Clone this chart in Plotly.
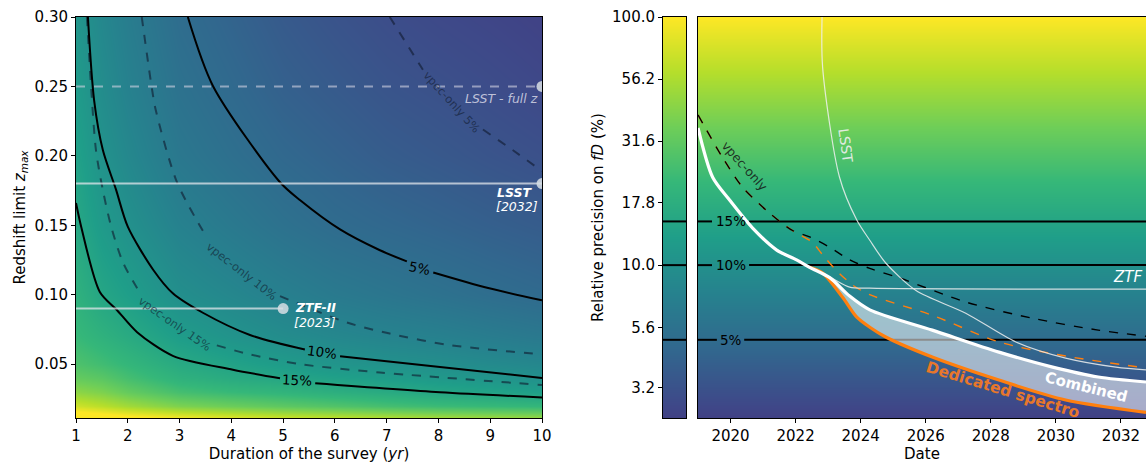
import numpy as np
import plotly.graph_objects as go

# ---------------- Left panel data ----------------
duration_grid = [1, 1.5, 2, 3, 4, 5, 6, 7, 8, 9, 10]
zmax_grid = [0.01, 0.02, 0.03, 0.04, 0.05, 0.07, 0.10, 0.15, 0.20, 0.25, 0.30]
# precision on fD (%) per duration column, from zmax=0.01 up to 0.30
prec_d1 = [170, 72, 45, 33, 27, 22, 19, 15.6, 13.8, 12.2, 11.0]
prec_d1_5 = [150, 62, 40, 30, 24, 19, 15, 12, 10.4, 9.3, 8.5]
prec_d2 = [130, 52, 33, 25, 21, 16.5, 13, 10.1, 8.6, 7.6, 7.0]
prec_d3 = [110, 40, 25, 19, 16.2, 12.5, 9.7, 7.6, 6.3, 5.6, 5.1]
prec_d4 = [95, 35, 22, 16.6, 14, 10.6, 8.5, 6.5, 5.4, 4.8, 4.35]
prec_d5 = [82, 31, 20, 15, 12.3, 9.3, 7.4, 5.6, 4.7, 4.1, 3.7]
prec_d6 = [75, 28, 18, 13.5, 10.9, 8.5, 6.6, 5.0, 4.25, 3.7, 3.3]
prec_d7 = [68, 25, 16.5, 12.6, 10.2, 7.9, 6.1, 4.65, 3.85, 3.35, 3.0]
prec_d8 = [62, 23, 15, 11.7, 9.7, 7.5, 5.65, 4.35, 3.6, 3.15, 2.8]
prec_d9 = [58, 22, 14.1, 10.9, 9.0, 6.9, 5.2, 4.05, 3.35, 2.95, 2.65]
prec_d10 = [55, 21, 13.1, 10, 8.4, 6.4, 4.85, 3.8, 3.15, 2.75, 2.5]
prec_columns = [prec_d1, prec_d1_5, prec_d2, prec_d3, prec_d4, prec_d5,
                prec_d6, prec_d7, prec_d8, prec_d9, prec_d10]

# total-precision contours (None = gap for the inline label)
c5_dur = [3.16, 3.65, 4.94, 5.33, 6.1, 6.87, 7.39, None, 7.9, 8.94, 10]
c5_z = [0.30, 0.25, 0.181, 0.168, 0.147, 0.132, 0.124, None, 0.116, 0.105, 0.096]
c10_dur = [1.23, 1.35, 1.52, 1.77, 2.0, 2.49, 2.87, 3.45, 4.36, 5.42, None, 6.1, 8.03, 10]
c10_z = [0.30, 0.240, 0.204, 0.176, 0.149, 0.118, 0.101, 0.087, 0.071, 0.0605, None, 0.0556, 0.048, 0.040]
c15_dur = [1.0, 1.1, 1.46, 1.79, 2.18, 2.87, 4.03, 4.94, None, 5.62, 8.03, 10]
c15_z = [0.166, 0.149, 0.102, 0.089, 0.073, 0.056, 0.046, 0.0398, None, 0.0362, 0.0297, 0.026]
# vpec-only contours
v5_dur = [7.06, 7.70, None, 8.86, 9.44, 10]
v5_z = [0.30, 0.262, None, 0.219, 0.204, 0.189]
v10_dur = [2.27, 2.46, 2.54, 2.95, 3.45, None, 4.94, 6.23, 7.06, 8.16, 10]
v10_z = [0.30, 0.25, 0.233, 0.181, 0.146, None, 0.099, 0.080, 0.072, 0.064, 0.057]
v15_dur = [1.21, 1.30, 1.386, 1.515, 1.68, 1.91, 2.24, None, 3.72, 4.36, 5.33, 6.87, 10]
v15_z = [0.30, 0.245, 0.204, 0.176, 0.149, 0.123, 0.101, None, 0.0635, 0.057, 0.050, 0.044, 0.035]

# surveys
ztf2_duration, ztf2_z = 5, 0.09
lsst_duration, lsst_z = 10, 0.18
lsst_full_z = 0.25

# ---------------- Right panel data ----------------
combined_year = [2019.0, 2019.45, 2019.97, 2020.68, 2021.42, 2022.03, 2022.43, 2023.05,
                 2023.66, 2024.28, 2026.2, 2028.25, 2029.9, 2031.3, 2032.77]
combined_pct = [35.7, 22.6, 18.3, 14.1, 11.5, 10.5, 9.8, 8.9, 7.5, 6.6, 5.47, 4.46, 3.88, 3.54, 3.38]
spectro_year = [2022.43, 2022.83, 2023.45, 2023.88, 2024.28, 2024.77, 2026.2, 2028.25, 2030.3, 2032.77]
spectro_pct = [9.8, 9.3, 7.4, 6.17, 5.62, 5.13, 4.26, 3.44, 2.86, 2.55]
vpec_year = [2019.0, 2019.75, 2020.37, 2021.2, 2021.9, 2022.43, 2023.05, 2023.66, 2024.28,
             2025.17, 2027.23, 2029.3, 2031.3, 2032.77]
vpec_pct = [40.3, 27.2, 20.6, 16.2, 13.8, 13.0, 11.8, 10.5, 9.7, 8.9, 7.1, 6.1, 5.47, 5.17]
vpec_spectro_year = [2019.0, 2019.75, 2020.37, 2021.2, 2021.9, 2022.5, 2022.83, 2023.26,
                     2023.76, 2024.28, 2026.2, 2028.25, 2030.3, 2032.77]
vpec_spectro_pct = [40.3, 27.2, 20.6, 16.2, 13.8, 12.4, 11.0, 9.5, 8.3, 7.6, 6.28, 4.9, 4.3, 3.85]
lsst_year = [2022.82, 2022.83, 2023.35, 2023.88, 2024.28, 2024.77, 2025.7, 2027.23,
             2028.77, 2030.3, 2031.85, 2032.77]
lsst_pct = [110, 62.8, 22.6, 15.2, 12.6, 10.2, 7.9, 6.4, 4.9, 4.22, 3.88, 3.78]
ztf_year = [2022.43, 2023.05, 2023.66, 2024.28, 2032.77]
ztf_pct = [9.8, 8.96, 8.15, 8.07, 8.0]

levels_pct = [5, 10, 15]
level_labels = ["5%", "10%", "15%"]
gradient_pct = [2.0, 3.2, 10.0, 31.6, 100.0]
ytick_vals = [3.2, 5.6, 10.0, 17.8, 31.6, 56.2, 100.0]
ytick_text = ["3.2", "5.6", "10.0", "17.8", "31.6", "56.2", "100.0"]
year_ticks = [2020, 2022, 2024, 2026, 2028, 2030, 2032]

# ---------------- Figure ----------------
W, H = 1146, 464
FONT = "DejaVu Sans"
FS = 15
fig = go.Figure()

# left heatmap
zmat = np.log10(np.array(prec_columns, dtype=float)).T
fig.add_trace(go.Heatmap(x=duration_grid, y=zmax_grid, z=zmat, colorscale="Viridis",
                         zmin=0, zmax=2, zsmooth="best", showscale=False,
                         hoverinfo="skip", xaxis="x", yaxis="y"))

dash_col = "rgba(15,25,45,0.6)"
for xs, zs in [(v5_dur, v5_z), (v10_dur, v10_z), (v15_dur, v15_z)]:
    fig.add_trace(go.Scatter(x=xs, y=zs, mode="lines", line=dict(color=dash_col, width=2, dash="dash",
                  shape="spline", smoothing=0.8), showlegend=False, hoverinfo="skip", xaxis="x", yaxis="y"))
for xs, zs in [(c5_dur, c5_z), (c10_dur, c10_z), (c15_dur, c15_z)]:
    fig.add_trace(go.Scatter(x=xs, y=zs, mode="lines", line=dict(color="black", width=2,
                  shape="spline", smoothing=0.8), showlegend=False, hoverinfo="skip", xaxis="x", yaxis="y"))

# survey lines
fig.add_trace(go.Scatter(x=[1, lsst_duration], y=[lsst_full_z, lsst_full_z], mode="lines",
              line=dict(color="rgba(210,210,225,0.6)", width=2, dash="dash"),
              showlegend=False, hoverinfo="skip", xaxis="x", yaxis="y"))
fig.add_trace(go.Scatter(x=[1, lsst_duration], y=[lsst_z, lsst_z], mode="lines",
              line=dict(color="rgba(225,230,235,0.75)", width=2),
              showlegend=False, hoverinfo="skip", xaxis="x", yaxis="y"))
fig.add_trace(go.Scatter(x=[1, ztf2_duration], y=[ztf2_z, ztf2_z], mode="lines",
              line=dict(color="rgba(225,230,235,0.75)", width=2),
              showlegend=False, hoverinfo="skip", xaxis="x", yaxis="y"))
fig.add_trace(go.Scatter(x=[ztf2_duration, lsst_duration, lsst_duration], y=[ztf2_z, lsst_z, lsst_full_z],
              mode="markers", marker=dict(color="rgba(215,222,228,0.85)", size=11),
              showlegend=False, hoverinfo="skip", xaxis="x", yaxis="y"))

# strip (colorbar)
gz = [[np.log10(v), np.log10(v)] for v in gradient_pct]
fig.add_trace(go.Heatmap(x=[0, 1], y=gradient_pct, z=gz, colorscale="Viridis", zmin=0, zmax=2,
                         zsmooth="best", showscale=False, hoverinfo="skip", xaxis="x2", yaxis="y2"))
for lv in levels_pct:
    fig.add_trace(go.Scatter(x=[0, 1], y=[lv, lv], mode="lines", line=dict(color="black", width=2),
                  showlegend=False, hoverinfo="skip", xaxis="x2", yaxis="y2"))

# main right panel background
fig.add_trace(go.Heatmap(x=[2018, 2034], y=gradient_pct, z=gz, colorscale="Viridis", zmin=0, zmax=2,
                         zsmooth="best", showscale=False, hoverinfo="skip", xaxis="x3", yaxis="y3"))
X0, X1 = 2019.0, 2032.77
label_x = 2020.0
for lv, lab in zip(levels_pct, level_labels):
    half = 0.57 if len(lab) == 3 else 0.42
    fig.add_trace(go.Scatter(x=[X0, label_x - half, None, label_x + half, X1 + 1],
                  y=[lv, lv, None, lv, lv], mode="lines", line=dict(color="black", width=2),
                  showlegend=False, hoverinfo="skip", xaxis="x3", yaxis="y3"))
    fig.add_annotation(x=label_x, y=np.log10(lv), xref="x3", yref="y3", text=lab, showarrow=False,
                       font=dict(size=13.5, color="black", family=FONT))

def line3(xs, ys, color, width, dash=None):
    fig.add_trace(go.Scatter(x=xs, y=ys, mode="lines",
                  line=dict(color=color, width=width, dash=dash, shape="spline", smoothing=0.8),
                  showlegend=False, hoverinfo="skip", xaxis="x3", yaxis="y3"))

line3(vpec_spectro_year, vpec_spectro_pct, "#ff7f0e", 1.4, "dash")
line3(vpec_year, vpec_pct, "black", 1.4, "dash")
line3(lsst_year, lsst_pct, "rgba(240,240,240,0.85)", 1.2)
line3(ztf_year, ztf_pct, "rgba(240,240,240,0.85)", 1.2)
line3(spectro_year, spectro_pct, "#ff7f0e", 3.2)
# fill between dedicated spectro and combined
split = combined_year.index(spectro_year[0])
fig.add_trace(go.Scatter(x=combined_year[split:], y=combined_pct[split:], mode="lines",
              line=dict(width=0, shape="spline", smoothing=0.8), fill="tonexty",
              fillcolor="rgba(255,255,255,0.55)", showlegend=False, hoverinfo="skip",
              xaxis="x3", yaxis="y3"))
line3(combined_year, combined_pct, "white", 3.2)

# ---------------- annotations ----------------
def ann(x, y, text, ref, size=12, color="white", angle=0, xanchor="center", yanchor="middle"):
    fig.add_annotation(x=x, y=y, xref="x" + ref, yref="y" + ref,
                       text=text, showarrow=False, textangle=angle, xanchor=xanchor, yanchor=yanchor,
                       font=dict(size=size, color=color, family=FONT))

# left contour labels
ann(7.64, 0.1195, "5%", "", 13.5, "black", 12)
ann(5.75, 0.0584, "10%", "", 13.5, "black", 8)
ann(5.27, 0.0383, "15%", "", 13.5, "black", 3)
ann(8.26, 0.239, "vpec-only 5%", "", 11.5, dash_col, 48)
ann(4.19, 0.117, "vpec-only 10%", "", 11.5, dash_col, 38)
ann(2.91, 0.079, "vpec-only 15%", "", 11.5, dash_col, 35)
ann(9.96, 0.2415, "<i>LSST - full z</i>", "", 12.5, "rgba(215,215,230,0.85)", 0, "right")
ann(9.86, 0.1735, "<b><i>LSST</i></b>", "", 12.5, "white", 0, "right")
ann(9.96, 0.1635, "<i>[2032]</i>", "", 12.5, "white", 0, "right")
ann(5.2, 0.0905, "<b><i>ZTF-II</i></b>", "", 12.5, "white", 0, "left")
ann(5.17, 0.080, "<i>[2023]</i>", "", 12.5, "white", 0, "left")

# right labels
ann(2020.45, np.log10(25.0), "vpec-only", "3", 12.5, "rgba(20,20,20,0.85)", 48)
ann(2023.54, np.log10(30.2), "LSST", "3", 14, "rgba(240,240,240,0.9)", 82)
ann(2032.2, np.log10(8.96), "<i>ZTF</i>", "3", 15, "white")
ann(2030.92, np.log10(3.22), "<b>Combined</b>", "3", 15, "white", 14)
ann(2028.37, np.log10(3.13), "<b>Dedicated spectro</b>", "3", 15.5, "#e8772a", 17)

# ---------------- layout ----------------
axis_common = dict(showline=True, linecolor="black", linewidth=1, ticks="outside", ticklen=4,
                   tickcolor="black", showgrid=False, zeroline=False, automargin=False,
                   tickfont=dict(size=FS, family=FONT, color="black"))
ylo = np.log10(2.42)
fig.update_layout(
    width=W, height=H, margin=dict(l=0, r=0, t=17, b=46, autoexpand=False),
    paper_bgcolor="white", plot_bgcolor="white", showlegend=False,
    font=dict(family=FONT, size=FS, color="black"),
    xaxis=dict(axis_common, domain=[76 / W, 542 / W], range=[1, 10], mirror=True,
               tickvals=list(range(1, 11)), anchor="y",
               title=dict(text="Duration of the survey (<i>yr</i>)", standoff=3,
                          font=dict(size=FS, family=FONT))),
    yaxis=dict(axis_common, domain=[0, 1], range=[0.0112, 0.30], mirror=True,
               tickvals=[0.05, 0.10, 0.15, 0.20, 0.25, 0.30],
               ticktext=["0.05", "0.10", "0.15", "0.20", "0.25", "0.30"], anchor="x",
               title=dict(text="Redshift limit <i>z</i><sub><i>max</i></sub>", standoff=5,
                          font=dict(size=FS, family=FONT))),
    xaxis2=dict(axis_common, domain=[663 / W, 686 / W], range=[0, 1], mirror=True,
                ticks="", showticklabels=False, anchor="y2"),
    yaxis2=dict(axis_common, type="log", domain=[0, 1], range=[ylo, 2], mirror=True,
                tickvals=ytick_vals, ticktext=ytick_text, anchor="x2",
                title=dict(text="Relative precision on <i>fD</i> (%)", standoff=4,
                           font=dict(size=FS, family=FONT))),
    xaxis3=dict(axis_common, domain=[698 / W, 1.0], range=[2019.0, 2032.77], mirror=True,
                tickvals=year_ticks, anchor="y3",
                title=dict(text="Date", standoff=3, font=dict(size=FS, family=FONT))),
    yaxis3=dict(axis_common, type="log", domain=[0, 1], range=[ylo, 2], mirror=False,
                ticks="", showticklabels=False, anchor="x3"),
)

fig.write_html("out.html", config={"displayModeBar": False},
               post_script="document.body.style.margin='0';document.body.style.overflow='hidden';")
